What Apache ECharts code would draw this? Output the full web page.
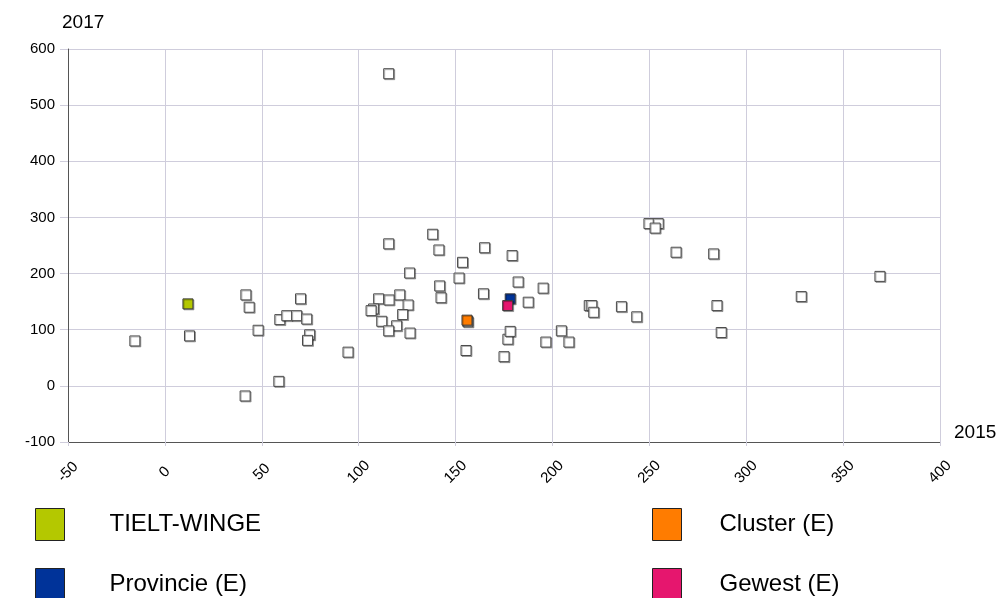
<!DOCTYPE html>
<html>
<head>
<meta charset="utf-8">
<script src="https://cdn.jsdelivr.net/npm/echarts@6/dist/echarts.min.js"></script>
<style>
  html, body { margin: 0; padding: 0; background: #fff; }
  #chart { width: 1006px; height: 598px; }
</style>
</head>
<body>
<div id="chart"></div>
<script>
// Gemeenten: 2015 (x) versus 2017 (y)
const otherX = [115.5, -15.5, 12.7, 41.8, 43.5, 48.1, 41.4, 58.8, 59.3, 62.9, 68, 70, 73.2, 74.7, 73.6, 94.5,
  115.5, 126.3, 110.3, 115.7, 121.2, 125.5, 107.7, 106.4, 122.7, 111.9, 119.6, 115.5, 126.5,
  138.2, 141.4, 165, 153.6, 179.2, 151.8, 141.8, 142.5, 164.4, 182.3, 195.2, 187.5, 156.4, 155.4,
  175, 177, 178.2, 204.6, 196.6, 208.5, 219, 220.3, 221.3, 235.6, 243.5, 249.8, 254.6, 253,
  263.8, 283.2, 284.9, 287.1, 328.4, 369];
const otherY = [556, 80, 89, 162, 140, 99, -18, 8, 118, 125, 125, 155, 119, 91, 81, 60,
  253, 201, 155, 153, 162, 144, 137, 134, 127, 115, 107, 98, 94,
  270, 242, 246, 220, 232, 192, 178, 157, 164, 185, 174, 149, 114, 63,
  52, 83, 97, 98, 78, 78, 143, 143, 131, 141, 123, 289, 289, 281,
  238, 235, 143, 95, 159, 195];

const highlightNames = ['TIELT-WINGE', 'Cluster (E)', 'Provincie (E)', 'Gewest (E)'];
const highlightX = [11.9, 155.9, 178.2, 176.9];
const highlightY = [146, 117, 155, 143];
const highlightColors = ['#b4c800', '#ff7c00', '#003399', '#e6166e'];

const xTicks = [-50, 0, 50, 100, 150, 200, 250, 300, 350, 400];
const yTicks = [-100, 0, 100, 200, 300, 400, 500, 600];

const font = '"Liberation Sans", Arial, sans-serif';
const gridColor = '#cfcddc';
const axisColor = '#555555';

const pointShadow = {
  shadowColor: 'rgba(0,0,0,0.3)',
  shadowOffsetX: 1,
  shadowOffsetY: 1,
  shadowBlur: 0
};

const series = [{
  name: 'overige',
  type: 'scatter',
  symbol: 'rect',
  symbolSize: 10,
  data: otherX.map((x, i) => [x, otherY[i]]),
  itemStyle: Object.assign({ color: '#ffffff', borderColor: '#4a4a4a', borderWidth: 1, opacity: 1 }, pointShadow),
  emphasis: { disabled: true },
  z: 2
}];

highlightNames.forEach((name, i) => {
  series.push({
    name: name,
    type: 'scatter',
    symbol: 'rect',
    symbolSize: 10,
    data: [[highlightX[i], highlightY[i]]],
    itemStyle: Object.assign({ color: highlightColors[i], borderColor: '#3a3a3a', borderWidth: 1, opacity: 1 }, pointShadow),
    emphasis: { disabled: true },
    z: 3 + i
  });
});

// one legend block per highlighted series, laid out in two columns
const legendPos = [
  { left: 35, top: 508, gap: 40 },
  { left: 652, top: 508, gap: 33 },
  { left: 35, top: 568, gap: 40 },
  { left: 652, top: 568, gap: 33 }
];
const legends = highlightNames.map((name, i) => ({
  data: [{
    name: name,
    icon: 'rect',
    itemStyle: { color: highlightColors[i], borderColor: '#222', borderWidth: 1, opacity: 1, shadowColor: 'transparent' }
  }],
  left: legendPos[i].left,
  top: legendPos[i].top,
  padding: 0,
  itemWidth: 29,
  itemHeight: 32,
  selectedMode: false,
  textStyle: { fontFamily: font, fontSize: 24, color: '#000', padding: [0, 0, 0, legendPos[i].gap] }
}));

const chart = echarts.init(document.getElementById('chart'), null, { renderer: 'canvas' });
chart.setOption({
  animation: false,
  backgroundColor: '#ffffff',
  grid: { left: 68, right: 66, top: 49, bottom: 156, containLabel: false },
  legend: legends,
  xAxis: {
    type: 'value',
    min: xTicks[0],
    max: xTicks[xTicks.length - 1],
    interval: 50,
    name: '2015',
    nameLocation: 'end',
    nameGap: 14,
    nameTextStyle: { fontFamily: font, fontSize: 19, color: '#000', verticalAlign: 'bottom', padding: [0, 0, 0, 0] },
    axisLine: { show: true, onZero: false, lineStyle: { color: axisColor, width: 1 } },
    axisTick: { show: true, inside: false, length: 4, lineStyle: { color: gridColor } },
    axisLabel: {
      rotate: 45, margin: 30, align: 'center', verticalAlign: 'middle',
      fontFamily: font, fontSize: 15, color: '#000'
    },
    splitLine: { show: true, lineStyle: { color: gridColor, width: 1 } }
  },
  yAxis: {
    type: 'value',
    min: yTicks[0],
    max: yTicks[yTicks.length - 1],
    interval: 100,
    name: '2017',
    nameLocation: 'end',
    nameGap: 17,
    nameTextStyle: { fontFamily: font, fontSize: 19, color: '#000', align: 'left', padding: [0, 0, 0, -6] },
    axisLine: { show: true, onZero: false, lineStyle: { color: axisColor, width: 1 } },
    axisTick: { show: true, inside: false, length: 8, lineStyle: { color: gridColor } },
    axisLabel: { margin: 13, fontFamily: font, fontSize: 15, color: '#000' },
    splitLine: { show: true, lineStyle: { color: gridColor, width: 1 } }
  },
  series: series
});
</script>
</body>
</html>
